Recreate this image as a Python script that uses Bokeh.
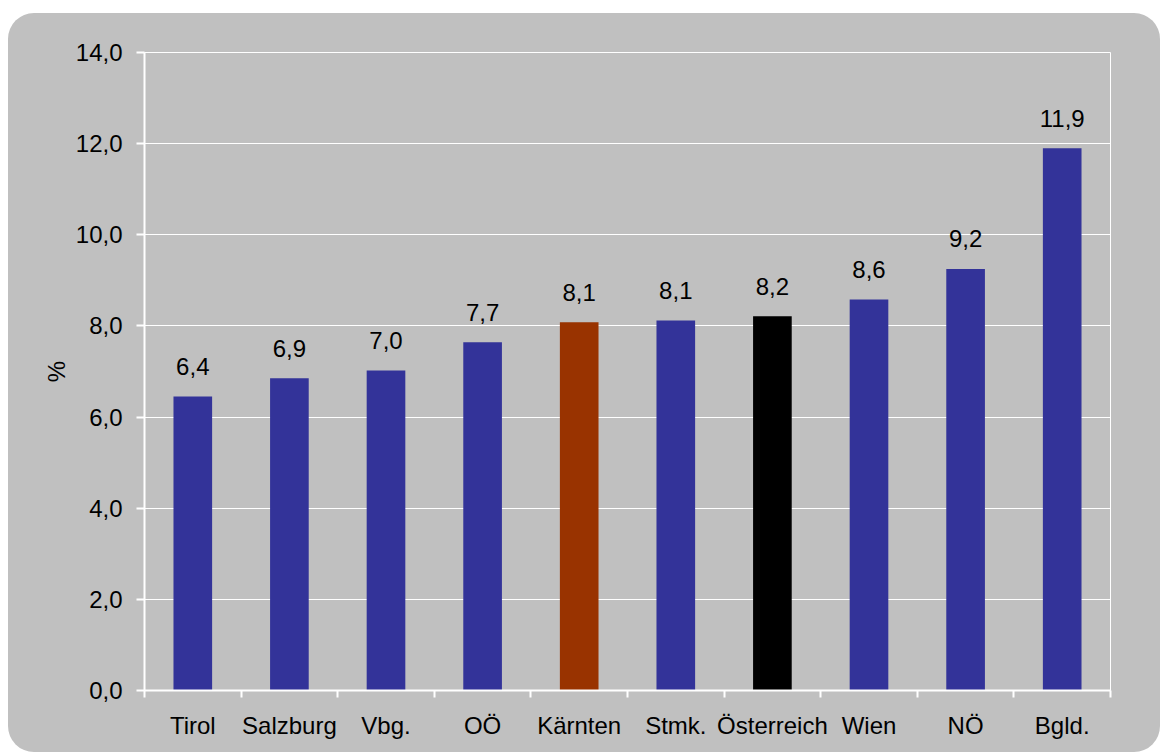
from bokeh.plotting import figure
from bokeh.models import FixedTicker, Range1d, ColumnDataSource
from bokeh.core.properties import value
from bokeh.embed import file_html
from bokeh.resources import INLINE

categories = ["Tirol", "Salzburg", "Vbg.", "OÖ", "Kärnten", "Stmk.", "Österreich", "Wien", "NÖ", "Bgld."]
values = [6.45, 6.85, 7.02, 7.64, 8.08, 8.12, 8.21, 8.58, 9.25, 11.9]
value_labels = ["6,4", "6,9", "7,0", "7,7", "8,1", "8,1", "8,2", "8,6", "9,2", "11,9"]
colors = ["#333399", "#333399", "#333399", "#333399", "#993300", "#333399", "#000000", "#333399", "#333399", "#333399"]
y_ticks = [0, 2, 4, 6, 8, 10, 12, 14]
y_tick_labels = ["0,0", "2,0", "4,0", "6,0", "8,0", "10,0", "12,0", "14,0"]

FONT = "Liberation Sans"
GRAY = "#c0c0c0"
FS = "24px"

x = [i + 0.5 for i in range(len(categories))]
src = ColumnDataSource(dict(x=x, top=values, color=colors, lab=value_labels))

p = figure(width=1152, height=739, output_backend="svg", toolbar_location=None,
           x_range=Range1d(0, len(categories)), y_range=Range1d(0, 14),
           min_border_left=136, min_border_right=50, min_border_top=39, min_border_bottom=62)
p.margin = (13, 0, 0, 8)
p.styles = {"background-color": GRAY, "border-radius": "26px"}
p.border_fill_color = None
p.background_fill_color = GRAY
p.outline_line_color = "white"
p.outline_line_width = 1

p.vbar(x="x", top="top", width=0.4, bottom=0, color="color", line_color=None, source=src)
p.text(x="x", y="top", text="lab", source=src, text_align="center", text_baseline="alphabetic",
       y_offset=-30, text_font=value(FONT), text_font_size=FS, text_color="black")

# x axis
p.xaxis.ticker = FixedTicker(ticks=x, minor_ticks=list(range(len(categories) + 1)))
p.xaxis.major_label_overrides = {xi: c for xi, c in zip(x, categories)}
p.xaxis.major_tick_line_color = None
p.xaxis.major_tick_out = 0
p.xaxis.major_tick_in = 0
p.xaxis.minor_tick_line_color = "white"
p.xaxis.minor_tick_line_width = 2
p.xaxis.minor_tick_out = 7
p.xaxis.minor_tick_in = 0
p.xaxis.axis_line_color = "white"
p.xaxis.axis_line_width = 2
p.xaxis.major_label_standoff = 14
p.xaxis.major_label_text_font = FONT
p.xaxis.major_label_text_font_size = FS
p.xaxis.major_label_text_color = "black"

# y axis
p.yaxis.ticker = FixedTicker(ticks=y_ticks, minor_ticks=[])
p.yaxis.major_label_overrides = {t: l for t, l in zip(y_ticks, y_tick_labels)}
p.yaxis.major_tick_line_color = "white"
p.yaxis.major_tick_line_width = 2
p.yaxis.major_tick_out = 8
p.yaxis.major_tick_in = 0
p.yaxis.minor_tick_line_color = None
p.yaxis.axis_line_color = "white"
p.yaxis.axis_line_width = 2
p.yaxis.major_label_standoff = 14
p.yaxis.major_label_text_font = FONT
p.yaxis.major_label_text_font_size = FS
p.yaxis.major_label_text_color = "black"
p.yaxis.axis_label = "%"
p.yaxis.axis_label_text_font = FONT
p.yaxis.axis_label_text_font_style = "normal"
p.yaxis.axis_label_text_font_size = FS
p.yaxis.axis_label_text_color = "black"
p.yaxis.axis_label_standoff = 3

p.xgrid.grid_line_color = None
p.ygrid.ticker = FixedTicker(ticks=y_ticks)
p.ygrid.grid_line_color = "white"
p.ygrid.grid_line_width = 1

open("out.html", "w").write(file_html(p, INLINE))
